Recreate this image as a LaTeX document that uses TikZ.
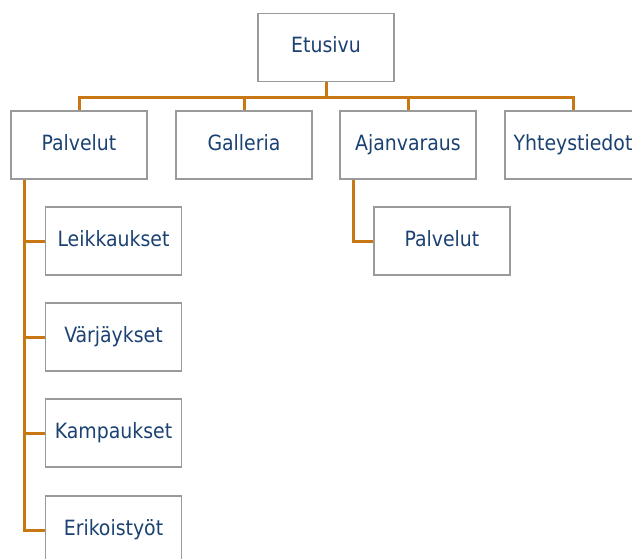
\documentclass[tikz,border=0pt]{standalone}
\usepackage{fontspec}
\setmainfont{DejaVu Sans Condensed}
\usetikzlibrary{positioning}
\definecolor{pagetext}{HTML}{1B4272}
\definecolor{pageline}{HTML}{C87712}
\definecolor{pageframe}{HTML}{9A9A9A}

\begin{document}
\begin{tikzpicture}[x=1pt, y=1pt,
    page/.style={draw=pageframe, line width=1.6pt, fill=white,
        minimum width=136pt, minimum height=68pt, inner sep=0pt,
        text height=15.5pt, text depth=4.5pt,
        text=pagetext, font=\fontsize{21}{25}\selectfont},
    link/.style={draw=pageline, line width=3pt}]
    \useasboundingbox (0,0) rectangle (632,-559);

    % Top level
    \node[page] (etusivu) at (326,-47.5) {Etusivu};
    \node[page] (palvelut) at (79,-145) {Palvelut};
    \node[page] (galleria) at (244,-145) {Galleria};
    \node[page] (ajanvaraus) at (408,-145) {Ajanvaraus};
    \node[page] (yhteys) at (573,-145) {Yhteystiedot};

    % Sub pages
    \node[page] (leikkaukset) at (113.5,-241) {Leikkaukset};
    \node[page] (varjaykset) at (113.5,-337) {Värjäykset};
    \node[page] (kampaukset) at (113.5,-433) {Kampaukset};
    \node[page] (erikois) at (113.5,-530) {Erikoistyöt};
    \node[page] (ajpalvelut) at (442,-241) {Palvelut};

    % Links
    \coordinate (bus) at ([yshift=-15.5pt]etusivu.south);
    \draw[link] (etusivu.south) -- (bus);
    \foreach \p in {palvelut, galleria, ajanvaraus, yhteys}
        \draw[link] (bus) -| (\p.north);
    \coordinate (ptrunk) at ([xshift=14pt]palvelut.south west);
    \foreach \p in {leikkaukset, varjaykset, kampaukset, erikois}
        \draw[link] (ptrunk) |- (\p.west);
    \coordinate (atrunk) at ([xshift=14pt]ajanvaraus.south west);
    \draw[link] (atrunk) |- (ajpalvelut.west);
\end{tikzpicture}
\end{document}
